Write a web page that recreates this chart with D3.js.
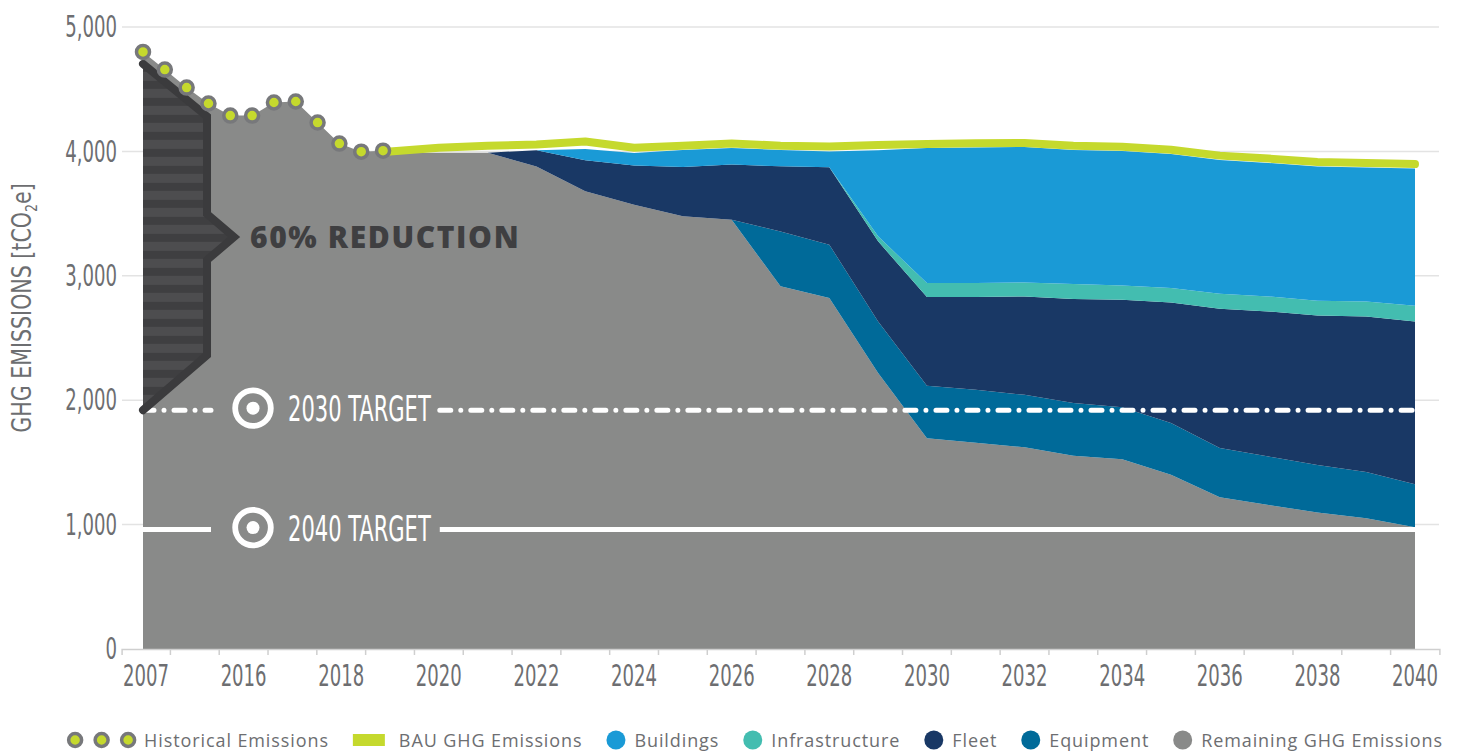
<!DOCTYPE html>
<html>
<head>
<meta charset="utf-8">
<script src="https://cdn.jsdelivr.net/npm/d3@7"></script>
<style>
  body { margin: 0; background: #fff; }
  svg { display: block; }
</style>
</head>
<body>
<div id="chart"></div>
<script>
// x axis categories, only every other one gets a label
let axisCats = ["2007", "2015", "2016", "2017", "2018", "2019", "2020", "2021", "2022", "2023", "2024",
    "2025", "2026", "2027", "2028", "2029", "2030", "2031", "2032", "2033", "2034", "2035", "2036",
    "2037", "2038", "2039", "2040"];
let yTicks = [0, 1000, 2000, 3000, 4000, 5000];

// historical emissions (dots)
let histYears = [2007, 2008, 2009, 2010, 2011, 2012, 2013, 2014, 2015, 2016, 2017, 2018];
let histValues = [4800, 4658, 4513, 4385, 4288, 4288, 4393, 4401, 4232, 4063, 3998, 4006];

// projections
let projYears = [2019, 2020, 2021, 2022, 2023, 2024, 2025, 2026, 2027, 2028, 2029, 2030,
    2031, 2032, 2033, 2034, 2035, 2036, 2037, 2038, 2039, 2040];
let bauValues = [4000, 4030, 4046, 4055, 4080, 4030, 4046, 4063, 4046, 4040, 4052, 4060,
    4065, 4068, 4046, 4038, 4014, 3966, 3942, 3914, 3906, 3898];
let remainingValues = [3990, 3990, 3990, 3878, 3679, 3572, 3478, 3451, 2915, 2821, 2218, 1695,
    1657, 1622, 1553, 1526, 1400, 1220, 1158, 1097, 1051, 979];
let equipmentValues = [0, 0, 0, 0, 0, 0, 0, 0, 442, 429, 415, 421,
    427, 421, 424, 418, 416, 395, 389, 383, 371, 346];
let fleetValues = [0, 0, 0, 131, 249, 314, 397, 443, 523, 623, 644, 713,
    745, 791, 836, 864, 970, 1120, 1166, 1201, 1251, 1308];
let infrastructureValues = [0, 0, 0, 0, 0, 0, 0, 0, 0, 0, 40, 113,
    113, 113, 121, 115, 116, 121, 121, 119, 121, 126];
let buildingsValues = [0, 0, 0, 0, 91, 101, 136, 134, 131, 127, 693, 1086,
    1090, 1089, 1077, 1080, 1077, 1075, 1073, 1079, 1077, 1104];

// targets (60% and 80% below 2007)
let targetLabels = ["2030 TARGET", "2040 TARGET"];
let targetValues = [1920, 960];

let legendNames = ["Historical Emissions", "BAU GHG Emissions", "Buildings", "Infrastructure",
    "Fleet", "Equipment", "Remaining GHG Emissions"];

let colors = {
    remaining: "#898a89",
    equipment: "#006a99",
    fleet: "#193865",
    infrastructure: "#43bdb0",
    buildings: "#1a9ad6",
    bau: "#c5d92d",
    dotStroke: "#77787b"
};
let condFont = "'Liberation Sans Narrow', 'DejaVu Sans Condensed', sans-serif";
let textGrey = "#6d6e71";

const width = 1459, height = 752;
let svg = d3.select("#chart").append("svg").attr("width", width).attr("height", height);

let x = d3.scaleBand().domain(axisCats).range([121.6, 1439.4]);
let xc = yr => x(String(yr)) + x.bandwidth() / 2;
let y = d3.scaleLinear().domain([0, 5000]).range([649, 27]);
let histX = d3.scaleLinear().domain([histYears[0], histYears[histYears.length - 1]])
    .range([xc(2007) - 3, xc(2019) - 7]);

//Gridlines
svg.append("g").selectAll("line").data(yTicks.slice(1)).join("line")
    .attr("x1", 122).attr("x2", 1439)
    .attr("y1", d => y(d)).attr("y2", d => y(d))
    .attr("stroke", "#e3e3e3").attr("stroke-width", 1.5);

//Stack the projection wedges
let table = projYears.map((yr, i) => ({
    year: yr,
    remaining: remainingValues[i],
    equipment: equipmentValues[i],
    fleet: fleetValues[i],
    infrastructure: infrastructureValues[i],
    buildings: buildingsValues[i]
}));
let keys = ["remaining", "equipment", "fleet", "infrastructure", "buildings"];
let series = d3.stack().keys(keys)(table);

// remaining area starts with the historical line
let remainingPts = histYears.map((yr, i) => ({x: histX(yr), v: histValues[i]}))
    .concat(series[0].map(d => ({x: xc(d.data.year), v: d[1]})));
svg.append("path")
    .attr("d", d3.area().x(d => d.x).y0(y(0)).y1(d => y(d.v))(remainingPts))
    .attr("fill", colors.remaining);

let area = d3.area().x(d => xc(d.data.year)).y0(d => y(d[0])).y1(d => y(d[1]));
svg.append("g").selectAll("path").data(series.slice(1)).join("path")
    .attr("d", area)
    .attr("fill", d => colors[d.key]);

//Target lines with labels
let ax0 = histX(histYears[0]);
let aw = 64;
targetValues.forEach((v, i) => {
    let ty = y(v);
    let g = svg.append("g");
    let iconX = ax0 + aw + 46;
    let labelX = iconX + 35;
    let lg = g.append("g").attr("transform", `translate(${labelX}, ${ty + 11})`);
    let txt = lg.append("text").text(targetLabels[i])
        .attr("font-family", condFont).attr("font-size", 36).attr("fill", "#fff")
        .attr("transform", "scale(0.65,1)");
    let labelEnd = labelX + txt.node().getComputedTextLength() * 0.65;
    g.append("circle").attr("cx", iconX).attr("cy", ty - 2).attr("r", 17.8)
        .attr("fill", "none").attr("stroke", "#fff").attr("stroke-width", 5.8);
    g.append("circle").attr("cx", iconX).attr("cy", ty - 2).attr("r", 6.5).attr("fill", "#fff");
    let segs = [[ax0, ax0 + aw + 4], [labelEnd + 9, xc(2040)]];
    g.selectAll("line").data(segs).join("line")
        .attr("x1", d => d[0]).attr("x2", d => d[1])
        .attr("y1", ty).attr("y2", ty)
        .attr("stroke", "#fff").attr("stroke-width", 5)
        .attr("stroke-linecap", i === 0 ? "round" : "butt")
        .attr("stroke-dasharray", i === 0 ? "11 10 0.01 10" : null);
});

//60% reduction arrow
let aTop = y(histValues[0]) + 12;
let aBot = y(targetValues[0]);
let aMid = (aTop + aBot) / 2;
let defs = svg.append("defs");
let pat = defs.append("pattern").attr("id", "stripes").attr("patternUnits", "userSpaceOnUse")
    .attr("width", 10).attr("height", 17).attr("y", aTop);
pat.append("rect").attr("width", 10).attr("height", 17).attr("fill", "#3f3f41");
pat.append("rect").attr("y", 8).attr("width", 10).attr("height", 9).attr("fill", "#4d4d4f");
let outline = [[ax0, aTop], [ax0 + aw, aTop + aw * 0.82], [ax0 + aw, aMid - 23], [ax0 + aw + 27, aMid],
    [ax0 + aw, aMid + 23], [ax0 + aw, aBot - aw * 0.86], [ax0, aBot]];
svg.append("path").attr("d", d3.line()(outline) + "Z").attr("fill", "url(#stripes)");
svg.append("path").attr("d", d3.line()(outline))
    .attr("fill", "none").attr("stroke", "#3b3b3d").attr("stroke-width", 8)
    .attr("stroke-linejoin", "miter").attr("stroke-linecap", "round");
svg.append("text").text("60% REDUCTION")
    .attr("x", ax0 + aw + 43).attr("y", aMid + 11)
    .attr("font-family", "'Open Sans', sans-serif").attr("font-weight", 800)
    .attr("font-size", 30).attr("letter-spacing", 1.6).attr("fill", "#3f3f41");

//BAU line
svg.append("path")
    .attr("d", d3.line().x((d, i) => xc(projYears[i])).y(d => y(d))(bauValues))
    .attr("fill", "none").attr("stroke", colors.bau).attr("stroke-width", 8)
    .attr("stroke-linecap", "round").attr("stroke-linejoin", "round");

//Historical dots
svg.append("g").selectAll("circle").data(histValues).join("circle")
    .attr("cx", (d, i) => histX(histYears[i])).attr("cy", d => y(d)).attr("r", 6.5)
    .attr("fill", colors.bau).attr("stroke", colors.dotStroke).attr("stroke-width", 3.5);

//Axes
let yAxis = svg.append("g").attr("transform", "translate(117,0)")
    .call(d3.axisLeft(y).tickValues(yTicks).tickSize(0).tickPadding(0).tickFormat(d3.format(",")));
yAxis.select(".domain").remove();
yAxis.selectAll("text").attr("font-family", condFont).attr("font-size", 30)
    .attr("fill", textGrey).attr("transform", "scale(0.67,1)");

let xAxis = svg.append("g").attr("transform", `translate(0, ${y(0)})`)
    .call(d3.axisBottom(x).tickSizeInner(0).tickSizeOuter(6).tickPadding(16)
        .tickFormat((d, i) => i % 2 === 0 ? d : ""));
xAxis.select(".domain").attr("stroke", "#cfcfcf").attr("stroke-width", 1.5);
xAxis.selectAll("text").attr("font-family", condFont).attr("font-size", 30)
    .attr("fill", textGrey).attr("transform", "scale(0.67,1)");
xAxis.append("g").selectAll("line").data(axisCats.slice(1)).join("line")
    .attr("x1", d => x(d)).attr("x2", d => x(d)).attr("y1", 0).attr("y2", 6)
    .attr("stroke", "#cfcfcf").attr("stroke-width", 1.5);

//Y axis title
let yTitle = svg.append("text")
    .attr("transform", "translate(31, 308) rotate(-90) scale(0.88,1)")
    .attr("text-anchor", "middle")
    .attr("font-family", condFont).attr("font-size", 26).attr("fill", textGrey);
yTitle.append("tspan").text("GHG EMISSIONS [tCO");
yTitle.append("tspan").text("2").attr("font-size", 16).attr("dy", 6);
yTitle.append("tspan").text("e]").attr("dy", -6);

//Legend
let legendSwatches = ["hist", "bau", "buildings", "infrastructure", "fleet", "equipment", "remaining"];
let legend = svg.append("g");
let cursor = 0;
let ly = 740;
legendSwatches.forEach((key, i) => {
    let g = legend.append("g");
    if (key === "hist") {
        [0, 1, 2].forEach(k => {
            g.append("circle").attr("cx", cursor + 8 + k * 26.5).attr("cy", ly).attr("r", 6.5)
                .attr("fill", colors.bau).attr("stroke", colors.dotStroke).attr("stroke-width", 3.5);
        });
        cursor += 8 + 2 * 26.5 + 8 + 8;
    } else if (key === "bau") {
        g.append("rect").attr("x", cursor).attr("y", ly - 6).attr("width", 32).attr("height", 12)
            .attr("fill", colors.bau);
        cursor += 32 + 14;
    } else {
        g.append("circle").attr("cx", cursor + 9.5).attr("cy", ly).attr("r", 9.5).attr("fill", colors[key]);
        cursor += 19 + 9;
    }
    let t = g.append("text").text(legendNames[i]).attr("x", cursor).attr("y", ly + 6.5)
        .attr("font-family", "'Open Sans', sans-serif").attr("font-size", 18)
        .attr("letter-spacing", 0.9).attr("fill", textGrey);
    cursor += t.node().getComputedTextLength() + 24;
});
let legendWidth = cursor - 24;
legend.attr("transform", `translate(${755 - legendWidth / 2}, 0)`);
</script>
</body>
</html>
